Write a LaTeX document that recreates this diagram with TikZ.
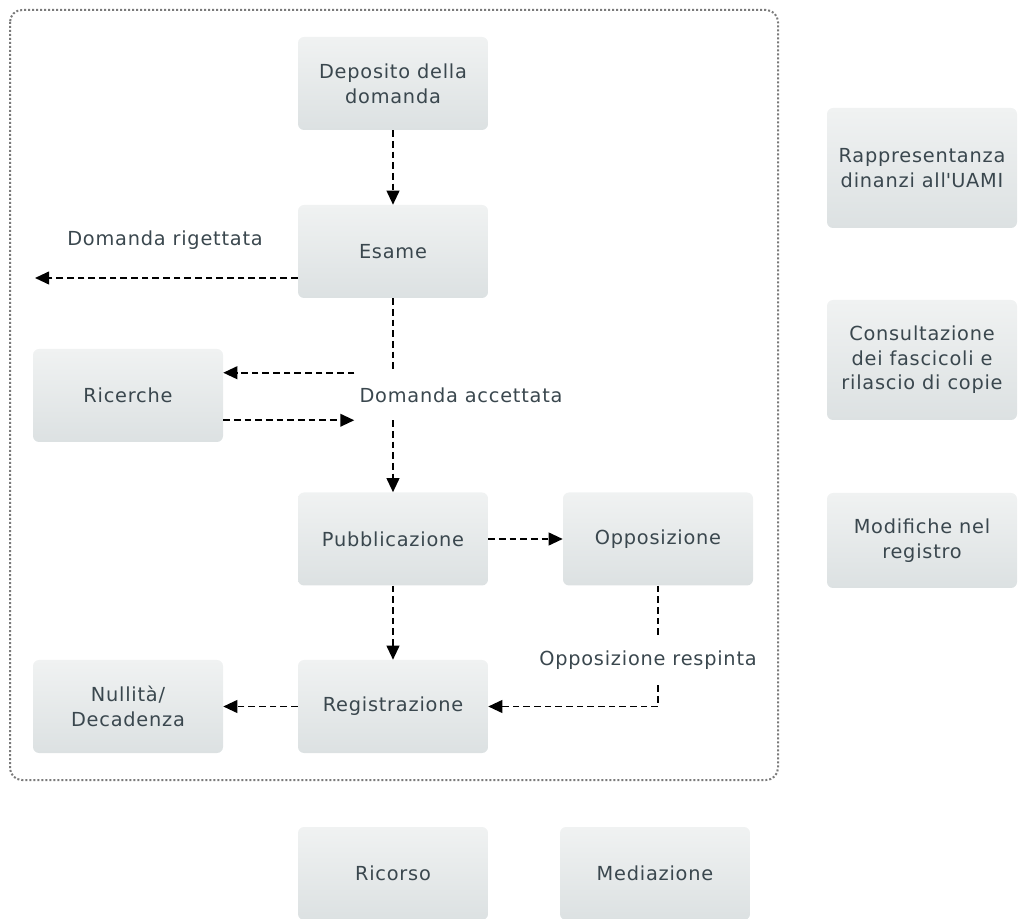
\documentclass[tikz,border=0pt]{standalone}
\usepackage{fontspec}
\newfontfamily\uamifont[LetterSpace=4]{DejaVu Sans}
\usetikzlibrary{arrows.meta,positioning,calc}
\definecolor{uamiink}{HTML}{3A474E}
\definecolor{uamitop}{HTML}{F0F2F2}
\definecolor{uamibot}{HTML}{DCE1E2}
\definecolor{uamiframe}{HTML}{7A7A7A}
\tikzset{
  stage/.style={top color=uamitop, bottom color=uamibot, rounded corners=4.5pt, align=center, text=uamiink, font=\uamifont\fontsize{14.5}{18.5}\selectfont, minimum width=142.5pt, minimum height=69.75pt, inner sep=0pt},
  side/.style={stage, minimum height=90pt},
  lbl/.style={text=uamiink, font=\uamifont\fontsize{14.5}{18.5}\selectfont, inner xsep=3.75pt, inner ysep=0pt, minimum height=37.5pt},
  link/.style={dash pattern=on 5pt off 3pt, line width=1.4pt, color=black},
  arr/.style={link, -{Triangle[length=10.5pt,width=9.5pt]}},
  frame/.style={draw=uamiframe, dash pattern=on 1.5pt off 1.5pt, line width=1.5pt, rounded corners=9pt},
}
\begin{document}
\begin{tikzpicture}[x=0.75pt,y=-0.75pt]
  \useasboundingbox (0,0) rectangle (1018,919);
  \draw[frame] (10,10) rectangle (778,780);
  % procedure inside the frame
  \node[stage] (dep) at (393,83.5) {Deposito della\\domanda};
  \node[stage] (esa) at (393,251.5) {Esame};
  \node[stage] (ric) at (128,395.5) {Ricerche};
  \node[stage] (pub) at (393,539) {Pubblicazione};
  \node[stage] (opp) at (658,539) {Opposizione};
  \node[stage] (reg) at (393,706.5) {Registrazione};
  \node[stage] (nul) at (128,706.5) {Nullità/\\Decadenza};
  \node[lbl] (rig) at (165,240) {Domanda rigettata};
  \node[lbl] (acc) at (461,395) {Domanda accettata};
  \node[lbl] (res) at (648,660) {Opposizione respinta};
  \coordinate (rej) at (35,278);
  % other services
  \node[stage] (rco) at (393,873.5) {Ricorso};
  \node[stage] (med) at (655,873.5) {Mediazione};
  \node[side] (rap) at (922,168) {Rappresentanza\\dinanzi all\textquotesingle UAMI};
  \node[side] (con) at (922,360) {Consultazione\\dei fascicoli e\\rilascio di copie};
  \node[stage, minimum height=71.25pt] (mod) at (922,540.5) {Modifiche nel\\registro};
  % connectors
  \draw[arr] (dep.south) -- (esa.north);
  \draw[arr] (esa.west |- rej) -- (rej);
  \draw[link] (esa.south) -- (esa.south |- acc.north);
  \draw[arr] (acc.south -| pub.north) -- (pub.north);
  \draw[arr] ($(acc.north west)+(0,3)$) -- (ric.east |- {$(acc.north west)+(0,3)$});
  \draw[arr] (ric.east |- acc.south) -- (acc.south west);
  \draw[arr] (pub.east) -- (opp.west);
  \draw[arr] (pub.south) -- (reg.north);
  \draw[link] (opp.south) -- (opp.south |- res.north);
  \draw[arr] (opp.south |- res.south) |- (reg.east);
  \draw[arr] (reg.west) -- (nul.east);
\end{tikzpicture}
\end{document}
